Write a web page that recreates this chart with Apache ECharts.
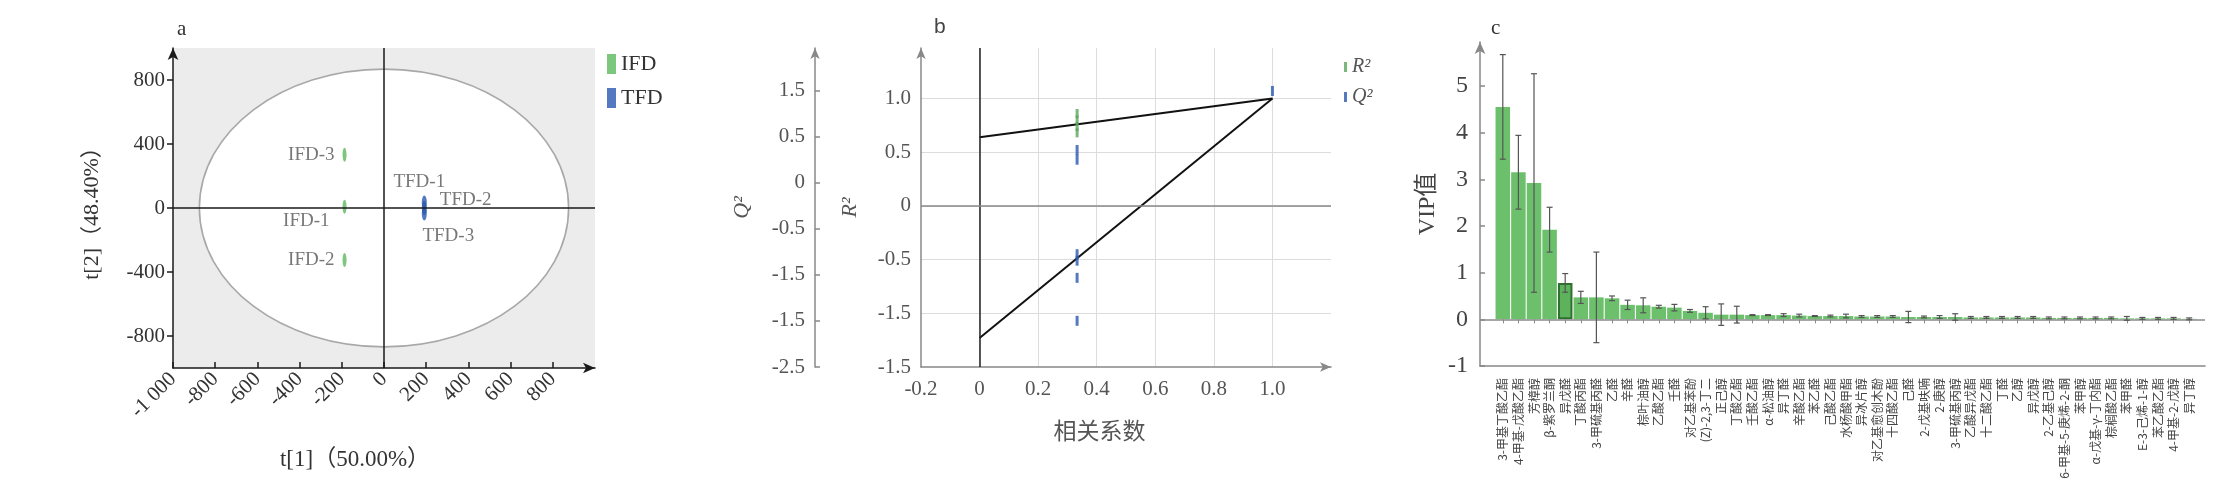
<!DOCTYPE html>
<html><head><meta charset="utf-8">
<script src="https://cdn.jsdelivr.net/npm/echarts@6/dist/echarts.min.js"></script>
<style>html,body{margin:0;padding:0;background:#fff}#main{width:2231px;height:499px}</style>
</head><body><div id="main"></div>
<script>
// ---------- Panel a : PCA score plot ----------
const ifdNames = ['IFD-1', 'IFD-2', 'IFD-3'];
const ifdT1 = [-187, -187, -187];
const ifdT2 = [8, -325, 333];
const tfdNames = ['TFD-1', 'TFD-2', 'TFD-3'];
const tfdT1 = [191, 191, 191];
const tfdT2 = [35, 0, -35];
const ellipseRadii = [875, 868];
const aXTickValues = [-1000, -800, -600, -400, -200, 0, 200, 400, 600, 800];
const aXTickLabels = ['-1 000', '-800', '-600', '-400', '-200', '0', '200', '400', '600', '800'];
const aYTickValues = [-800, -400, 0, 400, 800];
const aYTickLabels = ['-800', '-400', '0', '400', '800'];

// ---------- Panel b : permutation test ----------
const r2PermX = [0.333, 0.333, 0.333, 0.333];
const r2PermY = [0.86, 0.80, 0.74, 0.68];
const q2PermX = [0.333, 0.333, 0.333, 0.333, 0.333, 0.333, 1.0];
const q2PermY = [0.52, 0.43, -0.45, -0.51, -0.67, -1.07, 1.07];
const fitX = [0, 1.0];
const r2FitY = [0.64, 1.0];
const q2FitY = [-1.23, 1.0];
const bXTickValues = [-0.2, 0, 0.2, 0.4, 0.6, 0.8, 1.0];
const bXTickLabels = ['-0.2', '0', '0.2', '0.4', '0.6', '0.8', '1.0'];
const bR2TickValues = [-1.5, -1.0, -0.5, 0, 0.5, 1.0];
const bR2TickLabels = ['-1.5', '-1.5', '-0.5', '0', '0.5', '1.0'];
const bQ2TickValues = [0, 1, 2, 3, 4, 5, 6];
const bQ2TickLabels = ['-2.5', '-1.5', '-1.5', '-0.5', '0', '0.5', '1.5'];

// ---------- Panel c : VIP values ----------
const compounds = ['3-甲基丁酸乙酯', '4-甲基-戊酸乙酯', '芳樟醇', 'β-紫罗兰酮', '异戊醛', '丁酸丙酯', '3-甲硫基丙醛', '乙醛', '辛醛', '棕叶油醇',
  '乙酸乙酯', '壬醛', '对乙基苯酚', '(Z)-2,3-丁二', '正己醇', '丁酸乙酯', '壬酸乙酯', 'α-松油醇', '异丁醛', '辛酸乙酯',
  '苯乙醛', '己酸乙酯', '水杨酸甲酯', '异冰片醇', '对乙基愈创木酚', '十四酸乙酯', '己醛', '2-戊基呋喃', '2-庚醇', '3-甲硫基丙醇',
  '乙酸异戊酯', '十二酸乙酯', '丁醛', '乙醇', '异戊醇', '2-乙基己醇', '6-甲基-5-庚烯-2-酮', '苯甲醇', 'α-戊基-γ-丁内酯', '棕榈酸乙酯',
  '苯甲醛', 'E-3-己烯-1-醇', '苯乙酸乙酯', '4-甲基-2-戊醇', '异丁醇'];
const vipValues = [4.55, 3.15, 2.92, 1.92, 0.78, 0.47, 0.47, 0.45, 0.31, 0.30,
  0.27, 0.25, 0.18, 0.14, 0.10, 0.10, 0.09, 0.09, 0.09, 0.08,
  0.07, 0.07, 0.07, 0.06, 0.06, 0.06, 0.05, 0.05, 0.05, 0.05,
  0.04, 0.04, 0.04, 0.04, 0.04, 0.03, 0.03, 0.03, 0.03, 0.03,
  0.02, 0.02, 0.02, 0.02, 0.01];
const vipErrors = [1.12, 0.79, 2.34, 0.48, 0.20, 0.13, 0.97, 0.05, 0.10, 0.16,
  0.03, 0.07, 0.03, 0.13, 0.23, 0.18, 0.01, 0.01, 0.03, 0.03,
  0.01, 0.02, 0.04, 0.02, 0.02, 0.02, 0.12, 0.02, 0.03, 0.07,
  0.02, 0.02, 0.02, 0.02, 0.02, 0.02, 0.02, 0.02, 0.02, 0.02,
  0.04, 0.02, 0.02, 0.02, 0.02];
const cTickValues = [-1, 0, 1, 2, 3, 4, 5];
const cTickLabels = ['-1', '0', '1', '2', '3', '4', '5'];

// ---------- styles ----------
const serif = "'Liberation Serif','Times New Roman','Noto Sans CJK SC',serif";
const cjk = "'Noto Sans CJK SC','Liberation Serif',sans-serif";
const green = '#5cb85c', blue = '#2a58b0', barGreen = '#6cc06c';
const highlightIndex = 4;
const aLabelPos = {
  'IFD-1': { position: 'left', distance: 9, offset: [-4, 14] },
  'IFD-2': { position: 'left', distance: 8 },
  'IFD-3': { position: 'left', distance: 8 },
  'TFD-1': { position: 'top', distance: 4, offset: [-5, 0] },
  'TFD-2': { position: 'right', distance: 13, offset: [0, -8] },
  'TFD-3': { position: 'bottom', distance: 6, offset: [24, 0] }
};

function pickLabel(values, labels) {
  return function (v) {
    const i = values.findIndex(t => Math.abs(t - v) < 1e-6);
    return i >= 0 ? labels[i] : '';
  };
}

const chart = echarts.init(document.getElementById('main'));

const option = {
  backgroundColor: '#ffffff',
  animation: false,
  title: [
    { text: 'a', left: 172, top: 14, textStyle: { fontSize: 21, fontFamily: serif, fontWeight: 'normal', color: '#333' } },
    { text: 'b', left: 929, top: 12, textStyle: { fontSize: 21, fontFamily: "'Liberation Sans',sans-serif", fontWeight: 'normal', color: '#444' } },
    { text: 'c', left: 1486, top: 13, textStyle: { fontSize: 21, fontFamily: serif, fontWeight: 'normal', color: '#333' } }
  ],
  legend: [
    { data: ['IFD', 'TFD'], orient: 'vertical', left: 602, top: 48, icon: 'rect', itemWidth: 9, itemHeight: 20, itemGap: 12,
      textStyle: { fontSize: 22, fontFamily: serif, color: '#333' } },
    { data: ['R²', 'Q²'], orient: 'vertical', left: 1339, top: 52, icon: 'rect', itemWidth: 3, itemHeight: 10, itemGap: 10,
      textStyle: { fontSize: 20, fontFamily: serif, fontStyle: 'italic', color: '#555' } }
  ],
  grid: [
    { left: 173, top: 48, width: 422, height: 320, show: true, backgroundColor: '#ececec', borderWidth: 0 },
    { left: 921, top: 48, width: 410, height: 319 },
    { left: 1480, top: 42, width: 725, height: 324 },
    { left: 1495, top: 42, width: 702, height: 324 }
  ],
  xAxis: [
    { gridIndex: 0, type: 'value', min: -1000, max: 1000, interval: 200,
      axisLine: { show: true, onZero: false, symbol: ['none', 'arrow'], symbolSize: [8, 12], lineStyle: { color: '#1a1a1a', width: 1.5 } },
      axisTick: { show: true, inside: true, length: 6, customValues: aXTickValues, lineStyle: { color: '#1a1a1a', width: 1.5 } },
      axisLabel: { rotate: 45, fontSize: 21, fontFamily: serif, color: '#333', margin: 8, customValues: aXTickValues,
        formatter: pickLabel(aXTickValues, aXTickLabels) },
      splitLine: { show: false },
      name: 't[1]（50.00%）', nameLocation: 'middle', nameGap: 80,
      nameTextStyle: { fontSize: 23, fontFamily: serif, color: '#333', padding: [0, 58, 0, 0] } },
    { gridIndex: 1, type: 'value', min: -0.2, max: 1.2, interval: 0.2,
      axisLine: { show: true, onZero: false, symbol: ['none', 'arrow'], symbolSize: [7, 11], lineStyle: { color: '#888', width: 1.5 } },
      axisTick: { show: false },
      axisLabel: { fontSize: 21, fontFamily: serif, color: '#555', margin: 12, customValues: bXTickValues,
        formatter: pickLabel(bXTickValues, bXTickLabels) },
      splitLine: { show: true, showMinLine: false, showMaxLine: false, lineStyle: { color: '#dcdcdc', width: 1 } },
      name: '相关系数', nameLocation: 'middle', nameGap: 52,
      nameTextStyle: { fontSize: 23, fontFamily: cjk, color: '#555', padding: [0, 53, 0, 0] } },
    { gridIndex: 2, type: 'value', min: 0, max: 1,
      axisLine: { show: true, onZero: false, lineStyle: { color: '#888', width: 1.5 } },
      axisTick: { show: false }, axisLabel: { show: false }, splitLine: { show: false } },
    { gridIndex: 3, type: 'category', data: compounds,
      axisLine: { show: false },
      axisTick: { show: true, alignWithLabel: true, length: 4, lineStyle: { color: '#888' } },
      axisLabel: { interval: 0, rotate: 90, fontSize: 12, fontFamily: cjk, color: '#444', margin: 12 } }
  ],
  yAxis: [
    { gridIndex: 0, type: 'value', min: -1000, max: 1000,
      axisLine: { show: true, onZero: false, symbol: ['none', 'arrow'], symbolSize: [8, 12], lineStyle: { color: '#1a1a1a', width: 1.5 } },
      axisTick: { show: true, inside: false, length: 6, customValues: aYTickValues, lineStyle: { color: '#1a1a1a', width: 1.5 } },
      axisLabel: { fontSize: 21, fontFamily: serif, color: '#333', margin: 8, customValues: aYTickValues,
        formatter: pickLabel(aYTickValues, aYTickLabels) },
      splitLine: { show: false },
      name: 't[2]（48.40%）', nameLocation: 'middle', nameGap: 70,
      nameTextStyle: { fontSize: 22, fontFamily: serif, color: '#333' } },
    { gridIndex: 1, type: 'value', position: 'left', min: -1.5, max: 1.47, interval: 0.5,
      axisLine: { show: true, onZero: false, symbol: ['none', 'arrow'], symbolSize: [7, 11], lineStyle: { color: '#888', width: 1.5 } },
      axisTick: { show: false },
      axisLabel: { fontSize: 21, fontFamily: serif, color: '#555', margin: 10, customValues: bR2TickValues,
        formatter: pickLabel(bR2TickValues, bR2TickLabels) },
      splitLine: { show: true, showMinLine: false, showMaxLine: false, lineStyle: { color: '#dcdcdc', width: 1 } },
      name: 'R²', nameLocation: 'middle', nameGap: 60,
      nameTextStyle: { fontSize: 22, fontFamily: serif, fontStyle: 'italic', color: '#555' } },
    { gridIndex: 1, type: 'value', position: 'left', offset: 106, min: 0, max: 6.92,
      axisLine: { show: true, onZero: false, symbol: ['none', 'arrow'], symbolSize: [7, 11], lineStyle: { color: '#888', width: 1.5 } },
      axisTick: { show: true, inside: true, length: 5, customValues: bQ2TickValues, lineStyle: { color: '#888', width: 1.5 } },
      axisLabel: { fontSize: 21, fontFamily: serif, color: '#555', margin: 10, customValues: bQ2TickValues,
        formatter: pickLabel(bQ2TickValues, bQ2TickLabels) },
      splitLine: { show: false },
      name: 'Q²', nameLocation: 'middle', nameGap: 62,
      nameTextStyle: { fontSize: 22, fontFamily: serif, fontStyle: 'italic', color: '#555' } },
    { gridIndex: 2, type: 'value', min: -1, max: 5.94,
      axisLine: { show: true, onZero: false, symbol: ['none', 'arrow'], symbolSize: [8, 12], lineStyle: { color: '#888', width: 1.5 } },
      axisTick: { show: true, inside: true, length: 5, customValues: cTickValues, lineStyle: { color: '#888', width: 1.5 } },
      axisLabel: { fontSize: 24, fontFamily: serif, color: '#444', margin: 12, customValues: cTickValues,
        formatter: pickLabel(cTickValues, cTickLabels) },
      splitLine: { show: false },
      name: 'VIP值', nameLocation: 'middle', nameGap: 40,
      nameTextStyle: { fontSize: 24, fontFamily: serif, color: '#444' } },
    { gridIndex: 3, type: 'value', min: -1, max: 5.94, show: false }
  ],
  series: [
    // panel a
    { type: 'custom', name: 'ellipse', xAxisIndex: 0, yAxisIndex: 0, z: 1, silent: true, clip: false,
      data: [[0, 0, ellipseRadii[0], ellipseRadii[1]]],
      encode: { x: 0, y: 1 },
      renderItem: function (params, api) {
        const c = api.coord([api.value(0), api.value(1)]);
        const e = api.coord([api.value(0) + api.value(2), api.value(1) + api.value(3)]);
        return { type: 'ellipse', shape: { cx: c[0], cy: c[1], rx: e[0] - c[0], ry: c[1] - e[1] },
          style: { fill: '#ffffff', stroke: '#a8a8a8', lineWidth: 1.6 } };
      } },
    { type: 'scatter', name: 'IFD', xAxisIndex: 0, yAxisIndex: 0, z: 4,
      symbol: 'circle', symbolSize: [4, 14], itemStyle: { color: green },
      label: { show: true, formatter: '{b}', fontSize: 19, fontFamily: serif, color: '#555' },
      data: ifdNames.map((n, i) => ({ name: n, value: [ifdT1[i], ifdT2[i]], label: aLabelPos[n] })),
      markLine: { silent: true, symbol: 'none', label: { show: false }, animation: false,
        lineStyle: { color: '#1a1a1a', width: 1.5, type: 'solid' },
        data: [{ xAxis: 0 }, { yAxis: 0 }] } },
    { type: 'scatter', name: 'TFD', xAxisIndex: 0, yAxisIndex: 0, z: 4,
      symbol: 'circle', symbolSize: [5, 14], itemStyle: { color: blue },
      label: { show: true, formatter: '{b}', fontSize: 19, fontFamily: serif, color: '#555' },
      data: tfdNames.map((n, i) => ({ name: n, value: [tfdT1[i], tfdT2[i]], label: aLabelPos[n] })) },
    // panel b
    { type: 'line', name: 'R² fit', xAxisIndex: 1, yAxisIndex: 1, z: 3, symbol: 'none', silent: true,
      lineStyle: { color: '#111', width: 2 }, data: fitX.map((x, i) => [x, r2FitY[i]]),
      markLine: { silent: true, symbol: 'none', label: { show: false }, animation: false,
        data: [{ xAxis: 0, lineStyle: { color: '#222', width: 1.5, type: 'solid' } },
               { yAxis: 0, lineStyle: { color: '#888', width: 1.5, type: 'solid' } }] } },
    { type: 'line', name: 'Q² fit', xAxisIndex: 1, yAxisIndex: 1, z: 3, symbol: 'none', silent: true,
      lineStyle: { color: '#111', width: 2 }, data: fitX.map((x, i) => [x, q2FitY[i]]) },
    { type: 'scatter', name: 'R²', xAxisIndex: 1, yAxisIndex: 1, z: 4,
      symbol: 'rect', symbolSize: [3, 9], itemStyle: { color: '#5aa65a' },
      data: r2PermX.map((x, i) => [x, r2PermY[i]]) },
    { type: 'scatter', name: 'Q²', xAxisIndex: 1, yAxisIndex: 1, z: 4,
      symbol: 'rect', symbolSize: [3, 10], itemStyle: { color: blue },
      data: q2PermX.map((x, i) => [x, q2PermY[i]]) },
    // panel c
    { type: 'line', name: 'zero', xAxisIndex: 2, yAxisIndex: 3, data: [], silent: true,
      markLine: { silent: true, symbol: 'none', label: { show: false }, animation: false,
        lineStyle: { color: '#8a8a8a', width: 1.5, type: 'solid' }, data: [{ yAxis: 0 }] } },
    { type: 'bar', name: 'VIP', xAxisIndex: 3, yAxisIndex: 4, barWidth: '93%', z: 2,
      itemStyle: { color: barGreen },
      data: vipValues.map((v, i) => i === highlightIndex
        ? { value: v, itemStyle: { color: '#5cb35c', borderColor: '#2f6f2f', borderWidth: 2 } }
        : v) },
    { type: 'custom', name: 'VIP error', xAxisIndex: 3, yAxisIndex: 4, z: 5, silent: true,
      data: vipValues.map((v, i) => [i, v - vipErrors[i], v + vipErrors[i]]),
      encode: { x: 0, y: [1, 2] },
      renderItem: function (params, api) {
        const lo = api.coord([api.value(0), api.value(1)]);
        const hi = api.coord([api.value(0), api.value(2)]);
        const w = 3;
        const st = { stroke: '#555', lineWidth: 1.2 };
        return { type: 'group', children: [
          { type: 'line', shape: { x1: lo[0], y1: lo[1], x2: hi[0], y2: hi[1] }, style: st },
          { type: 'line', shape: { x1: lo[0] - w, y1: lo[1], x2: lo[0] + w, y2: lo[1] }, style: st },
          { type: 'line', shape: { x1: hi[0] - w, y1: hi[1], x2: hi[0] + w, y2: hi[1] }, style: st }
        ] };
      } }
  ]
};
chart.setOption(option);
</script></body></html>
